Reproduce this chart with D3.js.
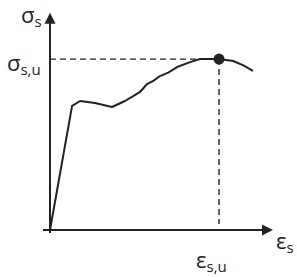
<!DOCTYPE html>
<html>
<head>
	<title>Stress strain</title>
	<script src="https://d3js.org/d3.v7.min.js"></script>
	<style>
	body { margin: 0; background: #fff; }
	text { font-family: "Open Sans", sans-serif; fill: #222; }
	</style>
</head>
<body>
</body>
<script type="text/javascript">

// curve (strain, stress), arbitrary units 0..100
const strain = [0, 9.9, 13.5, 20.2, 27.8, 33.6, 37.5, 40.4, 43.5, 46.5, 49.3, 53, 57.0, 62.8, 67.3, 75.8, 82.1, 86.5, 91.0]
const stress = [0, 57.7, 60.0, 59.1, 57.2, 60.0, 62.4, 64.2, 67.9, 69.5, 71.6, 73.2, 75.8, 78.1, 79.5, 79.5, 78.6, 76.7, 74.0]
const peak = [75.8, 79.5]

const width = 297
const height = 277
const ink = "#222"

const x = d3.scaleLinear().domain([0, 100]).range([50, 273])
const y = d3.scaleLinear().domain([0, 100]).range([230, 15])

const svg = d3.select("body").append("svg")
		.attr("width", width)
		.attr("height", height)

// axis ends
const xe = [x(100), y(0)], ye = [x(0), y(101)]

// axes
svg.append("line")
	.attr("x1", x(0) - 7).attr("y1", y(0))
	.attr("x2", xe[0] - 6).attr("y2", xe[1])
	.attr("stroke", ink).attr("stroke-width", 2)

svg.append("line")
	.attr("x1", x(0)).attr("y1", y(0) + 3)
	.attr("x2", ye[0]).attr("y2", ye[1] + 6)
	.attr("stroke", ink).attr("stroke-width", 2)

// arrow heads
svg.append("path")
	.attr("d", `M${xe[0]},${xe[1]} L${xe[0] - 11},${xe[1] - 5.5} L${xe[0] - 11},${xe[1] + 5.5} Z`)
	.attr("fill", ink)
svg.append("path")
	.attr("d", `M${ye[0]},${ye[1]} L${ye[0] - 5.5},${ye[1] + 11} L${ye[0] + 5.5},${ye[1] + 11} Z`)
	.attr("fill", ink)

// dashed guides
svg.append("line")
	.attr("x1", x(0)).attr("y1", y(peak[1]))
	.attr("x2", x(peak[0])).attr("y2", y(peak[1]))
	.attr("stroke", ink).attr("stroke-width", 1.4)
	.attr("stroke-dasharray", "6,4")

svg.append("line")
	.attr("x1", x(peak[0])).attr("y1", y(peak[1]))
	.attr("x2", x(peak[0])).attr("y2", y(0) - 6)
	.attr("stroke", ink).attr("stroke-width", 1.4)
	.attr("stroke-dasharray", "6,4")

// curve
const pts = strain.map((s, i) => [s, stress[i]])
svg.append("path")
	.attr("d", d3.line().x(d => x(d[0])).y(d => y(d[1]))(pts))
	.attr("fill", "none")
	.attr("stroke", ink)
	.attr("stroke-width", 2)
	.attr("stroke-linejoin", "round")

svg.append("circle")
	.attr("cx", x(peak[0])).attr("cy", y(peak[1]))
	.attr("r", 5.5)
	.attr("fill", ink)

// labels
function label(px, py, main, sub) {
	const t = svg.append("text").attr("x", px).attr("y", py).attr("font-size", 22)
	t.append("tspan").text(main)
	t.append("tspan").attr("font-size", 15).attr("dy", 4).text(sub)
}

label(21, 23, "σ", "s")
label(7, 71, "σ", "s,u")
label(276, 249, "ε", "s")
label(196, 268, "ε", "s,u")

</script>
</html>
